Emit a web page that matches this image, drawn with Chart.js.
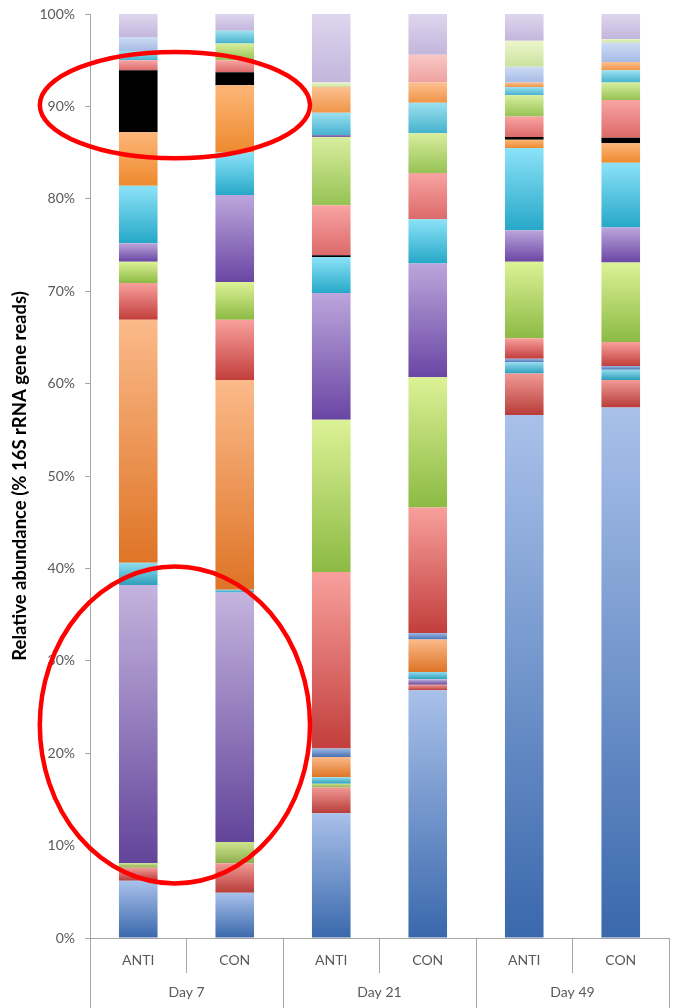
<!DOCTYPE html>
<html>
<head>
<meta charset="utf-8">
<script src="https://cdn.jsdelivr.net/npm/chart.js@4"></script>
<style>
  html, body { margin: 0; padding: 0; background: #fff; }
  #wrap { width: 674px; height: 1008px; position: relative; }
</style>
</head>
<body>
<div id="wrap"><canvas id="abundance"></canvas></div>
<script>
// samples (lower label row) and sampling days (upper label row)
const samples = ['ANTI', 'CON', 'ANTI', 'CON', 'ANTI', 'CON'];
const days = ['Day 7', 'Day 21', 'Day 49'];
const yTicks = [0, 10, 20, 30, 40, 50, 60, 70, 80, 90, 100];

// % of 16S rRNA gene reads, one value per bar, stacked bottom -> top
const blueA    = [6.2, 4.9, 13.5, 26.8, 56.6, 57.4];
const redA     = [1.4, 3.2, 2.8, 0.6, 4.5, 3.0];
const greenA   = [0.5, 2.3, 0.4, 0, 0, 0];
const purpleA  = [30.1, 27.0, 0, 0.6, 0, 0];
const aquaA    = [2.4, 0.3, 0.7, 0.8, 1.2, 1.1];
const orangeA  = [26.3, 22.7, 2.2, 3.5, 0, 0];
const blueB    = [0, 0, 0.9, 0.7, 0.4, 0.4];
const redB     = [4.0, 6.5, 19.1, 13.6, 2.2, 2.6];
const greenB   = [2.3, 4.1, 16.5, 14.1, 8.3, 8.6];
const purpleB  = [2.0, 9.4, 13.7, 12.3, 3.4, 3.8];
const aquaB    = [6.2, 4.6, 3.9, 4.8, 8.9, 7.0];
const orangeB  = [5.8, 7.3, 0, 0, 0.9, 2.1];
const blackC   = [6.7, 1.4, 0.2, 0, 0.3, 0.6];
const redC     = [1.1, 1.3, 5.4, 5.0, 2.2, 4.1];
const greenC   = [0, 1.8, 7.4, 4.3, 2.3, 1.9];
const purpleC  = [0, 0, 0.2, 0, 0, 0];
const aquaC    = [1.0, 1.4, 2.4, 3.3, 0.9, 1.3];
const orangeC  = [0, 0, 2.8, 2.2, 0.5, 0.9];
const pinkD    = [0, 0, 0, 3.0, 0, 0];
const blueD    = [1.5, 0, 0, 0, 1.7, 2.1];
const greenD   = [0, 0, 0.5, 0, 2.8, 0.4];
const lavender = [2.5, 1.8, 7.4, 4.4, 2.9, 2.7];

const series = [blueA, redA, greenA, purpleA, aquaA, orangeA,
  blueB, redB, greenB, purpleB, aquaB, orangeB, blackC,
  redC, greenC, purpleC, aquaC, orangeC, pinkD, blueD, greenD, lavender];

// top / bottom colour of each segment (excel style gradient)
const shades = [
  ['#a9c1ea', '#3a68ac'], ['#f09a96', '#b83c38'], ['#cde48e', '#8db050'],
  ['#c4b4de', '#62449a'], ['#92dcee', '#2e9fbc'], ['#fbba8a', '#de7426'],
  ['#9cb6e4', '#4a72b4'], ['#f8a09c', '#c23e3c'], ['#dcf296', '#8cba44'],
  ['#bca6dc', '#6a46a4'], ['#8ce2f8', '#26a8c8'], ['#fdb678', '#ee8a2e'],
  ['#000000', '#000000'], ['#f8a4a2', '#dc6a6a'], ['#d8ee9e', '#96c254'],
  ['#9a82c0', '#7458a6'], ['#9ce0f0', '#46b2ce'], ['#fcc090', '#f09448'],
  ['#f8c8c6', '#eea2a0'], ['#cddcf4', '#a6bce6'], ['#ecf6cc', '#cae29e'],
  ['#ded6ee', '#c2b6dc']
];

function segmentFill(ctx) {
  const chart = ctx.chart;
  const y = chart.scales.y;
  const pair = shades[ctx.datasetIndex];
  if (ctx.type !== 'data' || !y) return pair[0];
  let base = 0;
  for (let k = 0; k < ctx.datasetIndex; k++) base += series[k][ctx.dataIndex];
  const top = base + series[ctx.datasetIndex][ctx.dataIndex];
  const py0 = y.getPixelForValue(top), py1 = y.getPixelForValue(base);
  if (!Number.isFinite(py0) || !Number.isFinite(py1) || py0 === py1) return pair[0];
  const g = chart.ctx.createLinearGradient(0, py0, 0, py1);
  g.addColorStop(0, pair[0]);
  g.addColorStop(1, pair[1]);
  return g;
}

// red highlight rings, placed in axis units
const rings = [
  { x0: -1.02, x1: 1.78, y0: 95.9, y1: 84.4 },
  { x0: -1.02, x1: 1.78, y0: 40.2, y1: 5.9 }
];

const ringPlugin = {
  id: 'rings',
  afterDraw(chart) {
    const { ctx, scales: { x, y } } = chart;
    ctx.save();
    ctx.strokeStyle = '#ff0000';
    ctx.lineWidth = 4.5;
    rings.forEach(r => {
      const l = x.getPixelForValue(r.x0), rr = x.getPixelForValue(r.x1);
      const t = y.getPixelForValue(r.y0), b = y.getPixelForValue(r.y1);
      ctx.beginPath();
      ctx.ellipse((l + rr) / 2, (t + b) / 2, (rr - l) / 2, (b - t) / 2, 0, 0, Math.PI * 2);
      ctx.stroke();
    });
    ctx.restore();
  }
};

const axisGrey = '#a6a6a6';
const labelFont = { family: 'Lato', size: 14 };

const chart = new Chart(document.getElementById('abundance').getContext('2d'), {
  type: 'bar',
  data: {
    labels: samples,
    datasets: series.map((vals, i) => ({
      label: 'taxon ' + (i + 1),
      data: vals,
      backgroundColor: segmentFill,
      borderWidth: 0,
      barPercentage: 0.4,
      categoryPercentage: 1
    }))
  },
  options: {
    responsive: true,
    maintainAspectRatio: false,
    animation: false,
    layout: { padding: { top: 14, right: 5, bottom: 0, left: 0 } },
    plugins: { legend: { display: false }, tooltip: { enabled: false } },
    scales: {
      x: {
        stacked: true,
        offset: true,
        afterFit(scale) { scale.height = 32; },
        grid: { offset: true, drawOnChartArea: false, tickLength: 35, color: axisGrey },
        border: { color: axisGrey },
        ticks: { padding: -21, color: '#595959', font: labelFont }
      },
      x2: {
        type: 'category',
        labels: days,
        position: 'bottom',
        offset: true,
        afterFit(scale) { scale.height = 38; },
        grid: { offset: true, drawOnChartArea: false, tickLength: 38, color: axisGrey },
        border: { display: false },
        ticks: { padding: -24, color: '#595959', font: labelFont }
      },
      y: {
        stacked: true,
        min: 0,
        max: 100,
        afterFit(scale) { scale.width = 90; scale.paddingTop = 0; scale.paddingBottom = 0; },
        afterBuildTicks(scale) { scale.ticks = yTicks.map(v => ({ value: v })); },
        grid: { drawOnChartArea: false, tickLength: 5, color: axisGrey },
        border: { color: axisGrey },
        ticks: { padding: 10, color: '#595959', font: labelFont, callback: v => v + '%' },
        title: {
          display: true,
          text: 'Relative abundance (% 16S rRNA gene reads)',
          color: '#000',
          font: { family: 'Lato', size: 18.5, weight: 'bold' },
          padding: { top: 9, bottom: 0 }
        }
      }
    }
  },
  plugins: [ringPlugin]
});
chart.update();
</script>
</body>
</html>
